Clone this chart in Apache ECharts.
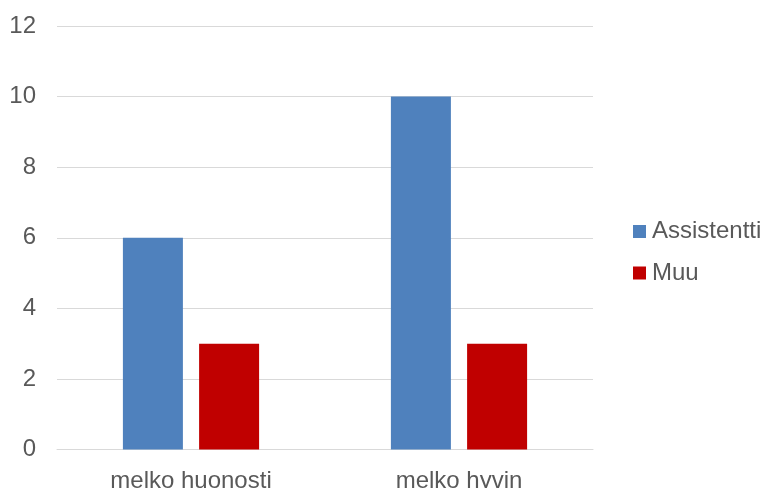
<!DOCTYPE html>
<html>
<head>
<meta charset="utf-8">
<script src="https://cdn.jsdelivr.net/npm/echarts@6/dist/echarts.min.js"></script>
<style>
  html, body { margin: 0; padding: 0; background: #fff; }
  #chart { width: 760px; height: 488px; }
</style>
</head>
<body>
<div id="chart"></div>
<script>
const categories = ['melko huonosti', 'melko hyvin'];
const assistentti = [6, 10];
const muu = [3, 3];
const seriesNames = ['Assistentti', 'Muu'];

const textColor = '#595959';
const font = '"Liberation Sans", Arial, sans-serif';
const fontSize = 24;

const chart = echarts.init(document.getElementById('chart'), null, { renderer: 'canvas' });
chart.setOption({
  animation: false,
  backgroundColor: '#ffffff',
  grid: { left: 57, right: 167, top: 26, bottom: 38.5, containLabel: false, outerBoundsMode: 'none' },
  legend: {
    orient: 'vertical',
    left: 633,
    top: 219.5,
    padding: 0,
    itemWidth: 13,
    itemHeight: 13,
    itemGap: 17.5,
    icon: 'rect',
    textStyle: { color: textColor, fontSize: fontSize, fontFamily: font, lineHeight: 24, padding: [0, 0, 0, 1] },
    data: seriesNames
  },
  xAxis: {
    type: 'category',
    data: categories,
    axisLine: { show: true, lineStyle: { color: '#d9d9d9', width: 1 } },
    axisTick: { show: false },
    axisLabel: { color: textColor, fontSize: fontSize, fontFamily: font, margin: 19.5 }
  },
  yAxis: {
    type: 'value',
    min: 0,
    max: 12,
    interval: 2,
    axisLine: { show: false },
    axisTick: { show: false },
    axisLabel: { color: textColor, fontSize: fontSize, fontFamily: font, margin: 21 },
    splitLine: { lineStyle: { color: '#d9d9d9', width: 1 } }
  },
  series: [
    {
      name: seriesNames[0],
      type: 'bar',
      data: assistentti,
      barWidth: 60,
      barGap: '27%',
      itemStyle: { color: '#4f81bd' }
    },
    {
      name: seriesNames[1],
      type: 'bar',
      data: muu,
      barWidth: 60,
      itemStyle: { color: '#c00000' }
    }
  ]
});
</script>
</body>
</html>
